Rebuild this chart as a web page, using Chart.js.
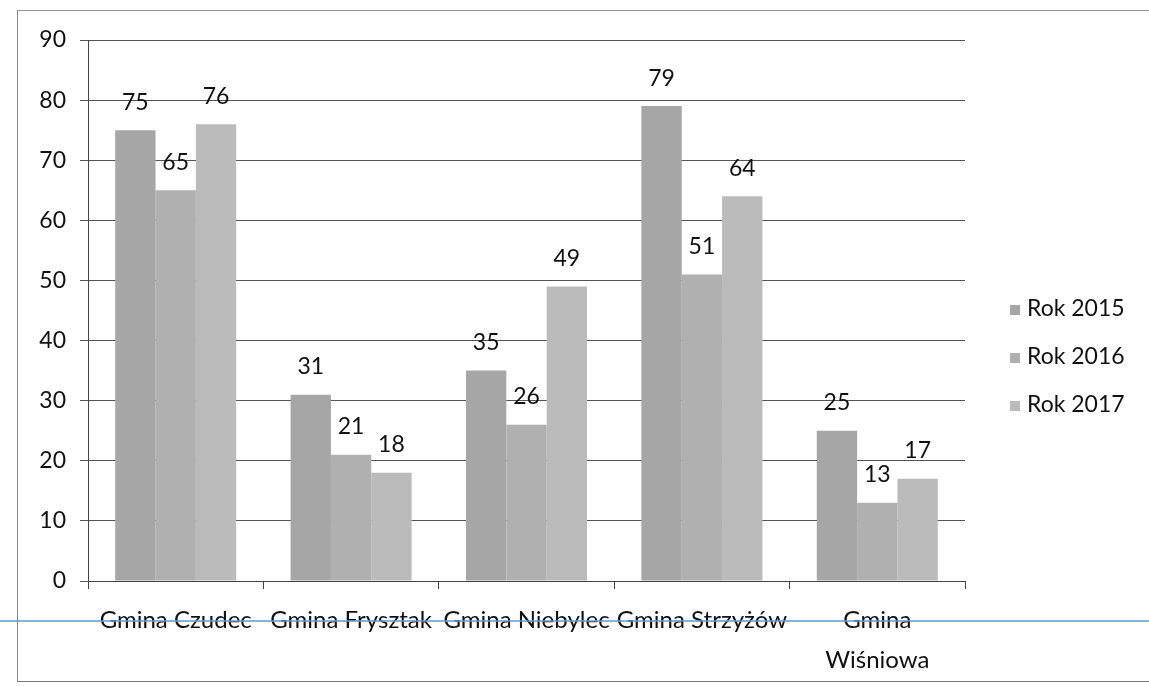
<!DOCTYPE html>
<html>
<head>
<meta charset="utf-8">
<script src="https://cdn.jsdelivr.net/npm/chart.js@4/dist/chart.umd.min.js"></script>
<style>
  body { margin: 0; background: #fff; }
  #wrap { position: relative; width: 1149px; height: 686px; overflow: hidden; background: #fff; }
  #frame { position: absolute; left: 17px; top: 10px; width: 1200px; height: 670px;
           border-left: 1px solid #888; border-top: 1px solid #999; border-bottom: 1px solid #777; }
  #chart { position: absolute; left: 0; top: 0; }
  #legend { position: absolute; left: 1010px; top: 290px; font-family: Lato, sans-serif; font-size: 23px; color: #111; }
  #legend div { height: 48px; line-height: 34px; white-space: nowrap; }
  #legend span { display: inline-block; width: 10px; height: 10px; margin-right: 7px; vertical-align: 1px; }
</style>
</head>
<body>
<div id="wrap">
  <div id="frame"></div>
  <canvas id="chart" width="1149" height="686"></canvas>
  <div id="legend"></div>
</div>
<script>
const categories = ['Gmina Czudec', 'Gmina Frysztak', 'Gmina Niebylec', 'Gmina Strzyżów', ['Gmina', 'Wiśniowa']];
const seriesNames = ['Rok 2015', 'Rok 2016', 'Rok 2017'];
const rok2015 = [75, 31, 35, 79, 25];
const rok2016 = [65, 21, 26, 51, 13];
const rok2017 = [76, 18, 49, 64, 17];
const seriesColors = ['#a6a6a6', '#b0b0b0', '#bbbbbb'];
const yTicks = [0, 10, 20, 30, 40, 50, 60, 70, 80, 90];

const FONT = 'Lato, sans-serif';

// wartości nad słupkami
const valueLabels = {
  id: 'valueLabels',
  afterDatasetsDraw(chart) {
    const ctx = chart.ctx;
    ctx.save();
    ctx.font = '23px ' + FONT;
    ctx.fillStyle = '#111';
    ctx.textAlign = 'center';
    ctx.textBaseline = 'middle';
    chart.data.datasets.forEach((ds, i) => {
      chart.getDatasetMeta(i).data.forEach((bar, j) => {
        ctx.fillText(String(ds.data[j]), bar.x, bar.y - 28);
      });
    });
    ctx.restore();
  }
};

// niebieska linia ze skanu
const scanLine = {
  id: 'scanLine',
  afterDraw(chart) {
    const ctx = chart.ctx;
    ctx.save();
    ctx.strokeStyle = '#5b9bd5';
    ctx.lineWidth = 1.5;
    ctx.beginPath();
    ctx.moveTo(0, 621);
    ctx.lineTo(chart.width, 621);
    ctx.stroke();
    ctx.restore();
  }
};

const datasets = [rok2015, rok2016, rok2017].map((d, i) => ({
  label: seriesNames[i],
  data: d,
  backgroundColor: seriesColors[i],
  borderWidth: 0,
  categoryPercentage: 0.69,
  barPercentage: 1.0
}));

new Chart(document.getElementById('chart'), {
  type: 'bar',
  data: { labels: categories, datasets: datasets },
  plugins: [valueLabels, scanLine],
  options: {
    responsive: false,
    animation: false,
    layout: { padding: { left: 0, right: 184, top: 40, bottom: 0 } },
    plugins: { legend: { display: false }, tooltip: { enabled: false } },
    scales: {
      x: {
        grid: { display: true, drawOnChartArea: false, tickLength: 8, color: '#444' },
        border: { display: true, color: '#444' },
        ticks: { color: '#111', font: { family: FONT, size: 24, lineHeight: 1.667 }, padding: 11, maxRotation: 0, autoSkip: false },
        afterFit(s) { s.height = 105; }
      },
      y: {
        min: 0, max: 90,
        afterBuildTicks(s) { s.ticks = yTicks.map(v => ({ value: v })); },
        grid: { color: '#555', tickLength: 8, lineWidth: 1 },
        border: { display: true, color: '#444' },
        ticks: { color: '#111', font: { family: FONT, size: 23 }, padding: 14 },
        afterFit(s) { s.width = 88; }
      }
    }
  }
});

document.getElementById('legend').innerHTML = seriesNames.map((n, i) =>
  `<div><span style="background:${seriesColors[i]}"></span>${n}</div>`).join('');
</script>
</body>
</html>
